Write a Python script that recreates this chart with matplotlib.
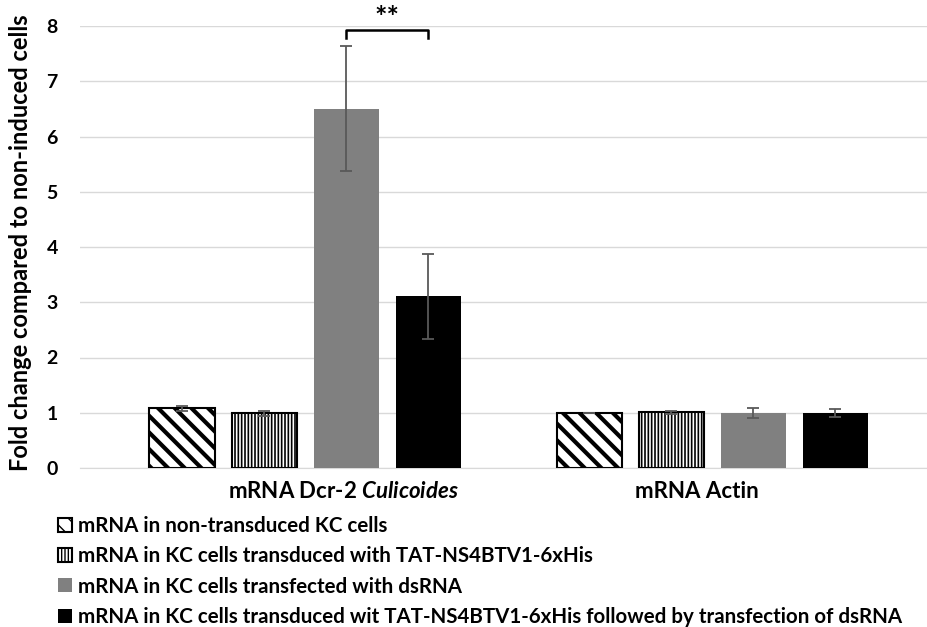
import matplotlib
matplotlib.use('Agg')
import matplotlib.pyplot as plt
import matplotlib.transforms as mtransforms
import numpy as np

plt.rcParams['font.family'] = ['Lato', 'DejaVu Sans']
plt.rcParams['font.weight'] = 'bold'
plt.rcParams['mathtext.fontset'] = 'custom'
plt.rcParams['mathtext.it'] = 'Lato:italic:bold'
plt.rcParams['mathtext.rm'] = 'Lato:bold'

# data
groups = ['mRNA Dcr-2 $\\mathit{Culicoides}$', 'mRNA Actin']
series = [
    'mRNA in non-transduced KC cells',
    'mRNA in KC cells transduced with TAT-NS4BTV1-6xHis',
    'mRNA in KC cells transfected with dsRNA',
    'mRNA in KC cells transduced wit TAT-NS4BTV1-6xHis followed by transfection of dsRNA',
]
values = [
    [1.08, 1.00],
    [0.99, 1.01],
    [6.50, 0.99],
    [3.11, 1.00],
]
errors = [
    [0.04, 0.00],
    [0.04, 0.03],
    [1.13, 0.09],
    [0.77, 0.07],
]
sig_label = '**'

fills = ['white', 'white', '#808080', 'black']
hatches = ['\\\\', '|||||', None, None]
hatch_lw = [3.0, 1.2, 1.0, 1.0]

fig = plt.figure(figsize=(9.27, 6.27), dpi=100)
ax = fig.add_axes([80 / 927, 1 - 468 / 627, 847 / 927, 442 / 627])

x = np.arange(len(groups))
step = 0.2015
width = 0.160
bar_sets = []
for i, name in enumerate(series):
    pos = x + (i - 1.5) * step
    with plt.rc_context({'hatch.linewidth': hatch_lw[i]}):
        bars = ax.bar(pos, values[i], width, color=fills[i],
                      edgecolor='black' if hatches[i] else fills[i],
                      linewidth=1.5 if hatches[i] else 0,
                      hatch=hatches[i], label=name, zorder=3)
    for b in bars:
        if hasattr(b, 'set_hatch_linewidth'):
            b.set_hatch_linewidth(hatch_lw[i])
    ax.errorbar(pos, values[i], yerr=errors[i], fmt='none', ecolor='#595959',
                elinewidth=1.3, capsize=4.5, capthick=1.3, zorder=4)
    bar_sets.append(pos)

# significance bracket between the two treated Dcr-2 bars
x1, x2 = bar_sets[2][0], bar_sets[3][0]
yb = 7.93
ax.plot([x1, x1, x2, x2], [yb - 0.14, yb, yb, yb - 0.14], color='black', lw=1.8,
        zorder=5, clip_on=False)
ax.text((x1 + x2) / 2, yb - 0.02, sig_label, ha='center', va='bottom',
        fontsize=21, fontweight='bold')

ax.set_xlim(-0.553, 1.528)
ax.set_ylim(0, 8)
ax.set_yticks(range(0, 9))
ax.yaxis.grid(True, color='#d9d9d9', lw=1, zorder=0)
ax.set_axisbelow(True)
for s in ['top', 'right', 'left']:
    ax.spines[s].set_visible(False)
ax.spines['bottom'].set_color('#d9d9d9')
ax.tick_params(axis='both', length=0)
ax.tick_params(axis='y', labelsize=14, pad=16)
ax.set_xticks(x)
ax.set_xticklabels(groups, fontsize=16, fontweight='bold')
ax.tick_params(axis='x', pad=9)
# Excel put the category labels a little off the group centres
for lab, dx in zip(ax.get_xticklabels(), [38, -15]):
    lab.set_transform(lab.get_transform() +
                      mtransforms.ScaledTranslation(dx / 100, 0, fig.dpi_scale_trans))
ax.set_ylabel('Fold change compared to non-induced cells', fontsize=17,
              fontweight='bold')
ax.yaxis.set_label_coords(-0.057, 0.51)

fig.legend(loc='upper left', bbox_to_anchor=(58 / 927, 1 - 516 / 627),
           frameon=False, prop={'weight': 'bold', 'size': 14.8},
           handlelength=0.67, handleheight=0.67, handletextpad=0.3,
           labelspacing=0.5, borderaxespad=0, borderpad=0)

fig.savefig('out.png', dpi=100)
